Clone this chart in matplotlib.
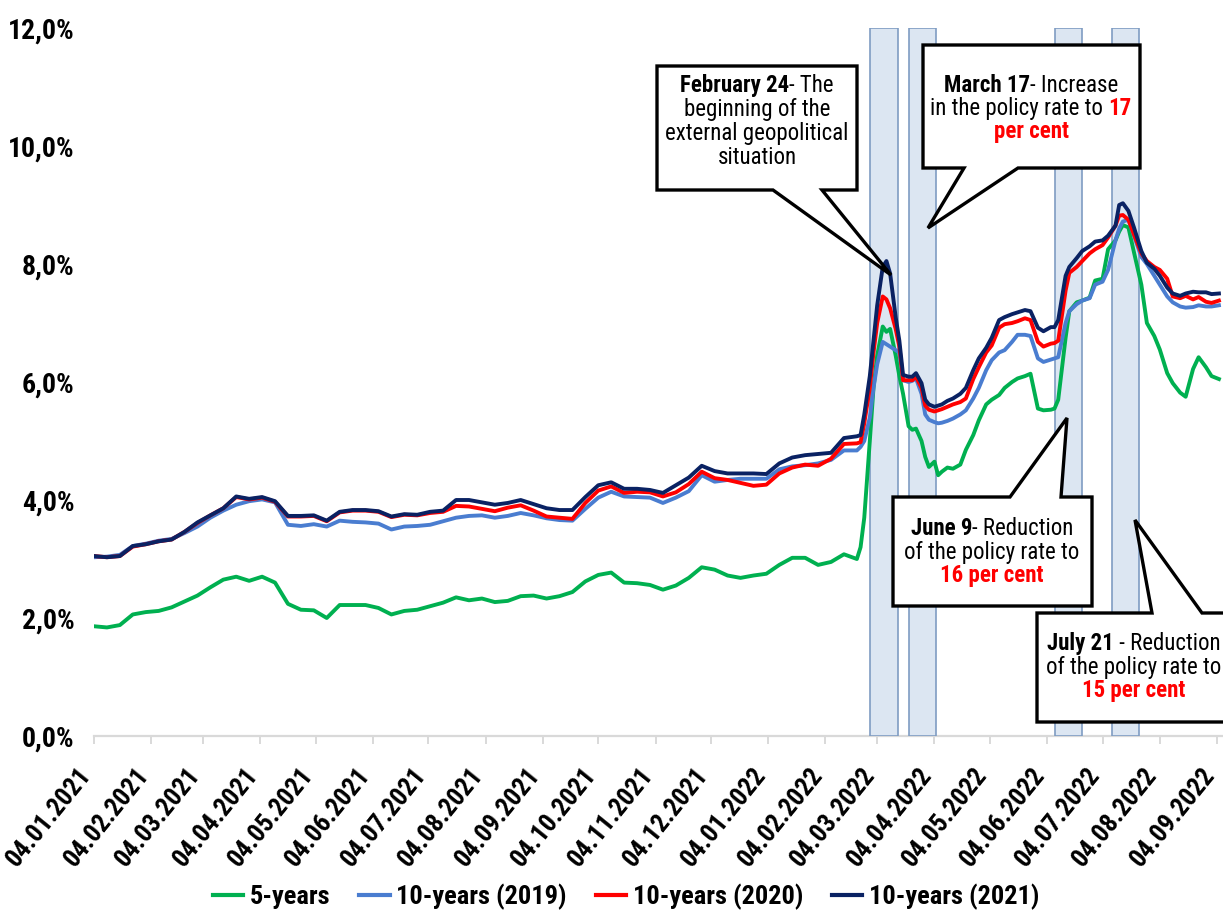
import matplotlib
matplotlib.use("Agg")
import matplotlib.pyplot as plt
import matplotlib.dates as mdates
from matplotlib import font_manager
from matplotlib.patches import Polygon
from matplotlib.transforms import Affine2D, ScaledTranslation
from matplotlib.ticker import FuncFormatter
from matplotlib.lines import Line2D
import pandas as pd

# narrow sans-serif if one is installed, otherwise regular Liberation Sans a bit smaller
available = {f.name for f in font_manager.fontManager.ttflist}
narrow = [n for n in ("Liberation Sans Narrow", "Arial Narrow", "Roboto Condensed",
                      "Open Sans Condensed", "DejaVu Sans Condensed") if n in available]
if narrow:
    plt.rcParams["font.family"] = [narrow[0], "Liberation Sans", "DejaVu Sans"]
    FS = 1.0
else:
    plt.rcParams["font.family"] = ["Liberation Sans", "DejaVu Sans"]
    FS = 0.84

# ---------------------------------------------------------------- data
dates = [
    # 2021, weekly
    "2021-01-04", "2021-01-11", "2021-01-18", "2021-01-25", "2021-02-01", "2021-02-08",
    "2021-02-15", "2021-02-22", "2021-03-01", "2021-03-08", "2021-03-15", "2021-03-22",
    "2021-03-29", "2021-04-05", "2021-04-12", "2021-04-19", "2021-04-26", "2021-05-03",
    "2021-05-10", "2021-05-17", "2021-05-24", "2021-05-31", "2021-06-07", "2021-06-14",
    "2021-06-21", "2021-06-28", "2021-07-05", "2021-07-12", "2021-07-19", "2021-07-26",
    "2021-08-02", "2021-08-09", "2021-08-16", "2021-08-23", "2021-08-30", "2021-09-06",
    "2021-09-13", "2021-09-20", "2021-09-27", "2021-10-04", "2021-10-11", "2021-10-18",
    "2021-10-25", "2021-11-01", "2021-11-08", "2021-11-15", "2021-11-22", "2021-11-29",
    "2021-12-06", "2021-12-13", "2021-12-20", "2021-12-27",
    # 2022
    "2022-01-03", "2022-01-10", "2022-01-17", "2022-01-24", "2022-01-31", "2022-02-07",
    "2022-02-14", "2022-02-21",
    "2022-02-23", "2022-02-25", "2022-02-28", "2022-03-02", "2022-03-04", "2022-03-07",
    "2022-03-09", "2022-03-11", "2022-03-14", "2022-03-16", "2022-03-18", "2022-03-21",
    "2022-03-23", "2022-03-25", "2022-03-28", "2022-03-30", "2022-04-01", "2022-04-04",
    "2022-04-06", "2022-04-08",
    "2022-04-11", "2022-04-14", "2022-04-18", "2022-04-21", "2022-04-25", "2022-04-28",
    "2022-05-02", "2022-05-05", "2022-05-09", "2022-05-12", "2022-05-16", "2022-05-19",
    "2022-05-23", "2022-05-26", "2022-05-30", "2022-06-02", "2022-06-06", "2022-06-08",
    "2022-06-10", "2022-06-14", "2022-06-16", "2022-06-20", "2022-06-23", "2022-06-27",
    "2022-06-30", "2022-07-04", "2022-07-07", "2022-07-11", "2022-07-13", "2022-07-15",
    "2022-07-18", "2022-07-21", "2022-07-25", "2022-07-28", "2022-08-01", "2022-08-04",
    "2022-08-08", "2022-08-11", "2022-08-15", "2022-08-18", "2022-08-22", "2022-08-25",
    "2022-08-29", "2022-09-01", "2022-09-05",
]

yield_5y = [
    1.86, 1.84, 1.88, 2.06, 2.10, 2.12, 2.18, 2.28, 2.38, 2.52, 2.65, 2.70, 2.63,
    2.70, 2.60, 2.24, 2.14,
    2.13, 2.00, 2.22, 2.22, 2.22,
    2.17, 2.06, 2.12, 2.14,
    2.20, 2.26, 2.35, 2.30,
    2.33, 2.27, 2.29, 2.37, 2.38,
    2.33, 2.37, 2.44, 2.62,
    2.73, 2.77, 2.60, 2.59,
    2.56, 2.48, 2.55, 2.68, 2.86,
    2.82, 2.72, 2.68, 2.72,
    2.75, 2.90, 3.02, 3.02, 2.90,
    2.95, 3.08, 3.00,
    3.20, 3.70, 5.00, 5.90, 6.45, 6.94, 6.85, 6.90, 6.45, 6.10, 5.80, 5.25,
    5.19, 5.21, 5.00, 4.73, 4.56, 4.65, 4.42, 4.48,
    4.55, 4.53, 4.60, 4.85, 5.10, 5.35, 5.62, 5.70, 5.78, 5.90, 6.00, 6.06,
    6.10, 6.14, 5.55, 5.52, 5.53, 5.55, 5.70, 6.75, 7.20, 7.35, 7.38, 7.43,
    7.72, 7.75, 8.25, 8.40, 8.55, 8.66, 8.62, 8.20, 7.65, 7.00, 6.78, 6.55,
    6.15, 5.98, 5.82, 5.75, 6.22, 6.42, 6.25, 6.10, 6.05,
]

yield_10y_2019 = [
    3.03, 3.04, 3.07, 3.22, 3.26, 3.31, 3.34, 3.44, 3.55, 3.70, 3.82, 3.92, 3.98,
    4.01, 3.96, 3.58, 3.56,
    3.59, 3.55, 3.65, 3.63, 3.62,
    3.60, 3.50, 3.55, 3.56,
    3.58, 3.64, 3.70, 3.73,
    3.74, 3.70, 3.73, 3.78, 3.74,
    3.69, 3.66, 3.65, 3.85,
    4.04, 4.14, 4.06, 4.05,
    4.04, 3.95, 4.04, 4.15, 4.42,
    4.31, 4.34, 4.36, 4.36,
    4.36, 4.52, 4.57, 4.59, 4.62,
    4.68, 4.84, 4.84,
    4.90, 5.00, 5.40, 5.90, 6.30, 6.68, 6.64, 6.60, 6.54, 6.50, 6.03, 6.00,
    6.02, 6.06, 5.80, 5.45, 5.36, 5.32, 5.30, 5.31,
    5.34, 5.38, 5.45, 5.52, 5.72, 5.90, 6.20, 6.37, 6.50, 6.54, 6.68, 6.80,
    6.80, 6.78, 6.40, 6.34, 6.38, 6.40, 6.42, 7.00, 7.20, 7.32, 7.38, 7.42,
    7.65, 7.70, 7.90, 8.40, 8.60, 8.72, 8.75, 8.48, 8.12, 8.00, 7.80, 7.65,
    7.45, 7.35, 7.28, 7.26, 7.27, 7.30, 7.28, 7.28, 7.30,
]

yield_10y_2020 = [
    3.05, 3.03, 3.05, 3.21, 3.25, 3.30, 3.33, 3.46, 3.61, 3.74, 3.86, 4.05, 4.01,
    4.04, 3.97, 3.72, 3.72,
    3.73, 3.64, 3.79, 3.82, 3.82,
    3.80, 3.71, 3.75, 3.74,
    3.78, 3.80, 3.90, 3.89,
    3.85, 3.81, 3.87, 3.91, 3.82,
    3.72, 3.70, 3.68, 3.95,
    4.16, 4.23, 4.12, 4.14,
    4.13, 4.06, 4.13, 4.27, 4.48,
    4.37, 4.34, 4.29, 4.24,
    4.26, 4.45, 4.55, 4.60, 4.58,
    4.70, 4.95, 4.96,
    4.98, 5.30, 5.90, 6.50, 7.00, 7.45, 7.40, 7.25, 6.90, 6.60, 6.03, 6.03,
    6.03, 6.09, 5.90, 5.60, 5.53, 5.50, 5.52, 5.54,
    5.58, 5.62, 5.66, 5.72, 6.05, 6.25, 6.50, 6.62, 6.92, 6.98, 7.00, 7.03,
    7.08, 7.05, 6.68, 6.60, 6.65, 6.66, 6.70, 7.55, 7.85, 7.95, 8.05, 8.18,
    8.25, 8.32, 8.45, 8.65, 8.82, 8.83, 8.75, 8.50, 8.18, 8.05, 7.95, 7.90,
    7.75, 7.45, 7.42, 7.46, 7.40, 7.44, 7.36, 7.34, 7.38,
]

yield_10y_2021 = [
    3.05, 3.03, 3.05, 3.22, 3.25, 3.30, 3.33, 3.46, 3.62, 3.74, 3.86, 4.06, 4.02,
    4.05, 3.98, 3.73, 3.73,
    3.74, 3.65, 3.80, 3.83, 3.83,
    3.81, 3.72, 3.76, 3.75,
    3.80, 3.82, 4.00, 4.00,
    3.96, 3.92, 3.95, 4.00, 3.93,
    3.86, 3.83, 3.83, 4.05,
    4.25, 4.30, 4.19, 4.19,
    4.17, 4.12, 4.25, 4.38, 4.58,
    4.49, 4.45, 4.45, 4.45,
    4.44, 4.62, 4.72, 4.76, 4.78,
    4.80, 5.05, 5.08,
    5.10, 5.45, 6.10, 6.70, 7.30, 7.95, 8.05, 7.84, 7.10, 6.70, 6.12, 6.09,
    6.09, 6.15, 5.98, 5.70, 5.62, 5.58, 5.60, 5.62,
    5.68, 5.72, 5.80, 5.90, 6.20, 6.40, 6.58, 6.75, 7.05, 7.10, 7.15, 7.18,
    7.22, 7.20, 6.92, 6.86, 6.93, 6.93, 7.05, 7.80, 7.95, 8.10, 8.22, 8.30,
    8.38, 8.40, 8.48, 8.65, 9.00, 9.03, 8.90, 8.62, 8.22, 8.02, 7.92, 7.80,
    7.60, 7.50, 7.46, 7.50, 7.53, 7.52, 7.52, 7.49, 7.50,
]

series_labels = ["5-years", "10-years (2019)", "10-years (2020)", "10-years (2021)"]
series_colors = ["#00b050", "#4a7dd0", "#ff0000", "#0a2263"]

# highlighted weeks around the events
event_periods = [
    ("2022-02-28", "2022-03-15"),
    ("2022-03-21", "2022-04-05"),
    ("2022-06-08", "2022-06-23"),
    ("2022-07-09", "2022-07-24"),
]

y_ticks = [0, 2, 4, 6, 8, 10, 12]

# ---------------------------------------------------------------- figure
W, H = 1223, 910
fig = plt.figure(figsize=(W / 100, H / 100), dpi=100)
ax = fig.add_axes([94 / W, 1 - 736 / H, (1222 - 94) / W, (736 - 28) / H])

# pixel coordinates measured from the top-left corner of the figure
pix = Affine2D().scale(1 / W, -1 / H).translate(0, 1) + fig.transFigure

x = pd.to_datetime(dates)
series = [yield_5y, yield_10y_2019, yield_10y_2020, yield_10y_2021]

for start, end in event_periods:
    ax.axvspan(pd.Timestamp(start), pd.Timestamp(end), ymin=0, ymax=1,
               facecolor="#dce6f2", edgecolor="#7f9cc2", linewidth=1.2, zorder=1)

for vals, color, label in zip(series, series_colors, series_labels):
    ax.plot(x, vals, color=color, linewidth=2.8, label=label, zorder=3,
            solid_joinstyle="round")

ax.set_xlim(pd.Timestamp("2021-01-04"), pd.Timestamp("2022-09-06 16:00"))
ax.set_ylim(0, 12)
ax.set_yticks(y_ticks)
ax.yaxis.set_major_formatter(FuncFormatter(lambda v, _: f"{v:.1f}%".replace(".", ",")))

ax.xaxis.set_major_locator(mdates.MonthLocator(bymonthday=4))
ax.xaxis.set_major_formatter(mdates.DateFormatter("%d.%m.%Y"))

for side in ("left", "right", "top"):
    ax.spines[side].set_visible(False)
ax.spines["bottom"].set_color("#d9d9d9")
ax.spines["bottom"].set_linewidth(1.6)
ax.spines["bottom"].set_zorder(0.5)

ax.tick_params(axis="y", length=0, pad=14, labelsize=20 * FS)
ax.tick_params(axis="x", length=6, width=1.4, color="#d9d9d9", pad=19, labelsize=18.5 * FS)
for lab in ax.get_yticklabels():
    lab.set_fontweight("bold")
shift_left = ScaledTranslation(-0.07, 0, fig.dpi_scale_trans)
for lab in ax.get_xticklabels():
    lab.set_fontweight("bold")
    lab.set_rotation(51)
    lab.set_ha("right")
    lab.set_va("center")
    lab.set_rotation_mode("anchor")
    lab.set_transform(lab.get_transform() + shift_left)

# ---------------------------------------------------------------- callouts
def callout(left, top, right, bottom, base1, base2, tip, side):
    if side == "bottom":
        pts = [(left, top), (right, top), (right, bottom), (base2, bottom),
               tip, (base1, bottom), (left, bottom)]
    else:
        pts = [(left, top), (base1, top), tip, (base2, top), (right, top),
               (right, bottom), (left, bottom)]
    fig.add_artist(Polygon(pts, closed=True, transform=pix, facecolor="white",
                           edgecolor="black", linewidth=2.4, joinstyle="miter",
                           zorder=5, clip_on=False))


renderer = fig.canvas.get_renderer()


def rich_line(xc, y, pieces, size=16.5):
    texts = []
    for s, weight, color in pieces:
        t = fig.text(0, 0, s, transform=pix, fontsize=size * FS, fontweight=weight,
                     color=color, ha="left", va="baseline", zorder=6)
        texts.append(t)
    widths = [t.get_window_extent(renderer).width for t in texts]
    xs = xc - sum(widths) / 2
    for t, w in zip(texts, widths):
        t.set_position((xs, y))
        xs += w


K, R = "black", "#ff0000"

callout(657, 66, 857, 190, 773, 822, (891, 275), "bottom")
rich_line(757, 92, [("February 24", "bold", K), ("- The", "normal", K)])
rich_line(757, 116, [("beginning of the", "normal", K)])
rich_line(757, 140, [("external geopolitical", "normal", K)])
rich_line(757, 164, [("situation", "normal", K)])

callout(923, 45, 1140, 168, 964, 1018, (928, 228), "bottom")
rich_line(1031, 92, [("March 17", "bold", K), ("- Increase", "normal", K)])
rich_line(1031, 115, [("in the policy rate to ", "normal", K), ("17", "bold", R)])
rich_line(1031, 138, [("per cent", "bold", R)])

callout(893, 497, 1092, 606, 1010, 1061, (1067, 418), "top")
rich_line(992, 535, [("June 9", "bold", K), ("- Reduction", "normal", K)])
rich_line(992, 559, [("of the policy rate to", "normal", K)])
rich_line(992, 582, [("16 per cent", "bold", R)])

callout(1037, 613, 1245, 722, 1152, 1202, (1135, 520), "top")
rich_line(1134, 650, [("July 21", "bold", K), (" - Reduction", "normal", K)])
rich_line(1134, 674, [("of the policy rate to", "normal", K)])
rich_line(1134, 697, [("15 per cent", "bold", R)])

# ---------------------------------------------------------------- legend
handles = [Line2D([], [], color=c, linewidth=3) for c in series_colors]
fig.legend(handles, series_labels, loc="center", bbox_to_anchor=(626 / W, 1 - 897 / H),
           ncol=4, frameon=False, handlelength=1.15 / FS, handletextpad=0.25 / FS,
           columnspacing=1.1 / FS, prop={"weight": "bold", "size": 19 * FS})

fig.savefig("out.png", dpi=100, facecolor="white")
